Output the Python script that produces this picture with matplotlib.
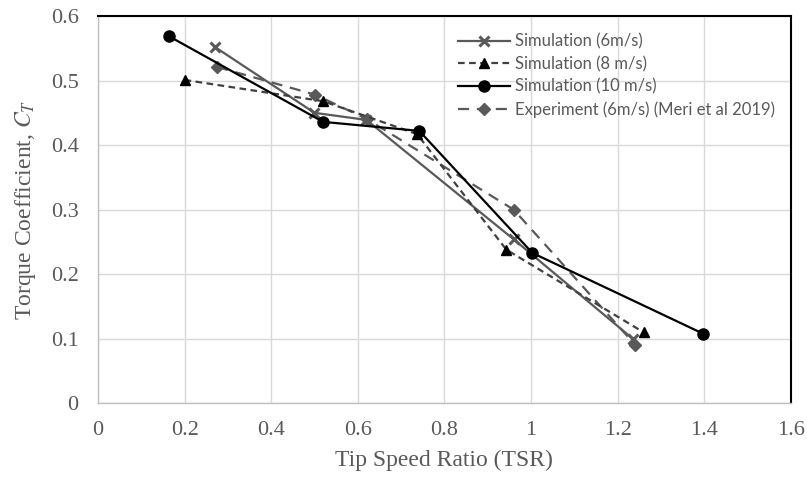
import numpy as np
import matplotlib
matplotlib.use("Agg")
from matplotlib import pyplot as plt

# ---------------- data ----------------
tsr_6 = [0.27, 0.50, 0.62, 0.96, 1.235]
ct_6 = [0.552, 0.450, 0.439, 0.254, 0.100]

tsr_8 = [0.20, 0.52, 0.737, 0.943, 1.26]
ct_8 = [0.501, 0.468, 0.417, 0.238, 0.110]

tsr_10 = [0.163, 0.52, 0.742, 1.003, 1.397]
ct_10 = [0.569, 0.436, 0.422, 0.233, 0.108]

tsr_exp = [0.275, 0.502, 0.622, 0.96, 1.24]
ct_exp = [0.521, 0.478, 0.440, 0.300, 0.091]

xticks = [0, 0.2, 0.4, 0.6, 0.8, 1.0, 1.2, 1.4, 1.6]
xticklabels = ['0', '0.2', '0.4', '0.6', '0.8', '1', '1.2', '1.4', '1.6']
yticks = [0, 0.1, 0.2, 0.3, 0.4, 0.5, 0.6]
yticklabels = ['0', '0.1', '0.2', '0.3', '0.4', '0.5', '0.6']

labels = ['Simulation (6m/s)', 'Simulation (8 m/s)', 'Simulation (10 m/s)',
          'Experiment (6m/s) (Meri et al 2019)']

plt.rcParams['mathtext.fontset'] = 'stix'
text_grey = '#595959'
grid_grey = '#d9d9d9'

fig = plt.figure(figsize=(8.07, 4.79), dpi=100)
ax = fig.add_axes([0.1214, 0.158, 0.8586, 0.8086])

ax.plot(tsr_6, ct_6, color='#595959', linestyle='-', linewidth=1.6,
        marker='x', markersize=7, markeredgewidth=2.2, label=labels[0], zorder=3)
ax.plot(tsr_8, ct_8, color='#404040', linestyle=(0, (3, 2)), linewidth=1.6,
        marker='^', markersize=7, markerfacecolor='black', markeredgecolor='black',
        label=labels[1], zorder=4)
ax.plot(tsr_10, ct_10, color='black', linestyle='-', linewidth=1.6,
        marker='o', markersize=8, label=labels[2], zorder=5)
ax.plot(tsr_exp, ct_exp, color='#595959', linestyle=(0, (5, 3.5)), linewidth=1.6,
        marker='D', markersize=6, label=labels[3], zorder=3)

ax.set_xlim(0, 1.6)
ax.set_ylim(0, 0.6)
ax.set_xticks(xticks)
ax.set_xticklabels(xticklabels)
ax.set_yticks(yticks)
ax.set_yticklabels(yticklabels)

ax.grid(True, color=grid_grey, linewidth=1.0)
ax.set_axisbelow(True)
ax.tick_params(length=0, labelsize=16, labelcolor=text_grey)
ax.tick_params(axis='x', pad=13)
ax.tick_params(axis='y', pad=14)
for lab in ax.get_xticklabels() + ax.get_yticklabels():
    lab.set_fontfamily('Liberation Serif')

for sp in ['left', 'bottom']:
    ax.spines[sp].set_color('#bfbfbf')
    ax.spines[sp].set_linewidth(1.0)
for sp in ['top', 'right']:
    ax.spines[sp].set_color('black')
    ax.spines[sp].set_linewidth(1.5)

ax.set_xlabel('Tip Speed Ratio (TSR)', fontfamily='Liberation Serif', fontsize=17,
              color=text_grey, labelpad=7)
ax.set_ylabel('Torque Coefficient, $C_T$', fontfamily='Liberation Serif', fontsize=17,
              color=text_grey, labelpad=9)

leg = ax.legend(loc='upper left', bbox_to_anchor=(0.515, 0.963), frameon=False,
                prop={'family': 'Lato', 'size': 12}, labelcolor=text_grey,
                handlelength=3.1, handletextpad=0.3, labelspacing=0.38,
                borderaxespad=0.0, borderpad=0.2)

fig.savefig('out.png', dpi=100, facecolor='white')
plt.close('all')
